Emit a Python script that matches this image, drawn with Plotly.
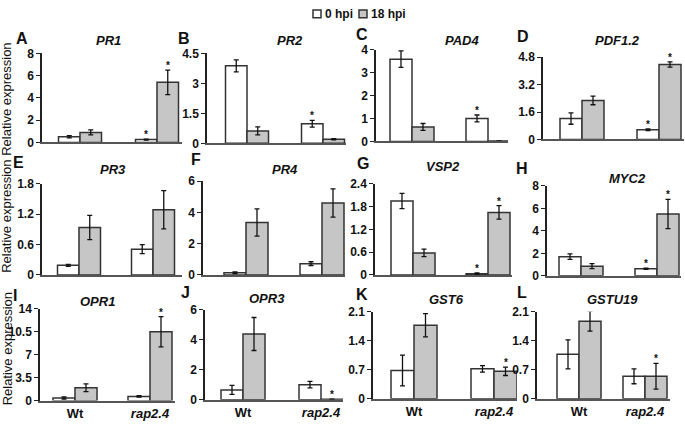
import plotly.graph_objects as go

W, H = 685, 426
FONT = "Liberation Sans, Arial, sans-serif"

# ---------------- data ----------------
genes = ["PR1", "PR2", "PAD4", "PDF1.2", "PR3", "PR4", "VSP2", "MYC2",
         "OPR1", "OPR3", "GST6", "GSTU19"]
panel_letters = ["A", "B", "C", "D", "E", "F", "G", "H", "I", "J", "K", "L"]
genotypes = ["Wt", "rap2.4"]
series_names = ["0 hpi", "18 hpi"]

wt_0hpi      = [0.50, 3.88, 3.58, 1.22, 0.19, 0.14, 1.95, 1.71, 0.40, 0.65, 0.68, 1.07]
wt_0hpi_err  = [0.10, 0.30, 0.36, 0.33, 0.02, 0.05, 0.20, 0.25, 0.15, 0.30, 0.37, 0.35]
wt_18hpi     = [0.90, 0.62, 0.63, 2.28, 0.94, 3.35, 0.58, 0.86, 1.96, 4.38, 1.77, 1.87]
wt_18hpi_err = [0.22, 0.20, 0.15, 0.25, 0.24, 0.87, 0.10, 0.22, 0.60, 1.10, 0.28, 0.24]
rap_0hpi     = [0.25, 0.98, 1.00, 0.57, 0.51, 0.72, 0.03, 0.63, 0.64, 1.00, 0.72, 0.54]
rap_0hpi_err = [0.05, 0.17, 0.15, 0.05, 0.09, 0.12, 0.02, 0.05, 0.10, 0.22, 0.08, 0.18]
rap_18hpi    = [5.40, 0.20, 0.02, 4.38, 1.29, 4.60, 1.65, 5.50, 10.5, 0.03, 0.66, 0.54]
rap_18hpi_err= [1.10, 0.03, 0.00, 0.15, 0.38, 0.90, 0.18, 1.30, 2.30, 0.00, 0.10, 0.31]
# significance markers for rap2.4 bars
rap_0hpi_sig  = [1, 1, 1, 1, 0, 0, 1, 1, 0, 0, 0, 0]
rap_18hpi_sig = [1, 0, 0, 1, 0, 0, 1, 1, 1, 1, 1, 1]

y_tick_max  = [8, 4.5, 4, 4.8, 1.8, 6, 2.4, 8, 14, 6, 2.1, 2.1]
y_tick_step = [2, 1.5, 1, 1.6, 0.6, 2, 0.6, 2, 3.5, 2, 0.7, 0.7]

# ---------------- layout geometry (pixels) ----------------
# axis_left, axis_right, wt_center, rap_center, bar_px, y_top, y_zero
geom = [
    (42, 182, 80, 157, 21.5, 48, 140),
    (207, 346, 247, 323, 21.5, 48, 141),
    (376, 508, 412, 488, 22, 44, 139),
    (543, 684, 582, 659, 22, 52, 137),
    (42, 182, 79, 153, 21.5, 183, 277),
    (203, 345, 246, 322, 22, 180, 277),
    (375, 512, 413, 488, 22, 183, 277),
    (547, 681, 581, 657, 22, 185, 278),
    (40, 175, 75, 150, 22, 312, 407),
    (205, 343, 243, 321, 22, 313, 406),
    (373, 517, 414, 494, 23, 315, 405),
    (537, 670, 579, 645, 22, 315, 405),
]
title_pos = [(108, 35), (290, 35), (462, 35), (617, 35),
             (113, 168), (285, 168), (443, 165), (627, 177),
             (98, 305), (267, 301), (447, 302), (612, 302)]
letter_pos = [(22, 33), (184, 33), (362, 28), (523, 30),
              (18, 161), (196, 158), (363, 162), (522, 167),
              (15, 298), (185, 295), (362, 297), (522, 295)]

WHITE = "white"
GREY = "#c6c6c6"
EDGE = "#333333"

fig = go.Figure()
layout_axes = {}
annotations = []

def fx(px):
    return px / W

def fy(py):
    return 1 - py / H

for i, g in enumerate(genes):
    L, R, c0, c1, wpx, yt, yz = geom[i]
    u = c1 - c0
    bw = wpx / u
    xa = "x" if i == 0 else f"x{i+1}"
    ya = "y" if i == 0 else f"y{i+1}"
    err_style = dict(type="data", color="#111111", thickness=1.3, width=2.5)
    fig.add_trace(go.Bar(
        x=[0, 1], y=[wt_0hpi[i], rap_0hpi[i]],
        error_y=dict(array=[wt_0hpi_err[i], rap_0hpi_err[i]], **err_style),
        offset=-bw, width=bw, name=series_names[0], showlegend=False,
        marker=dict(color=WHITE, line=dict(color=EDGE, width=1.5)),
        xaxis=xa, yaxis=ya))
    fig.add_trace(go.Bar(
        x=[0, 1], y=[wt_18hpi[i], rap_18hpi[i]],
        error_y=dict(array=[wt_18hpi_err[i], rap_18hpi_err[i]], **err_style),
        offset=0, width=bw, name=series_names[1], showlegend=False,
        marker=dict(color=GREY, line=dict(color=EDGE, width=1.5)),
        xaxis=xa, yaxis=ya))

    ymax = y_tick_max[i]
    step = y_tick_step[i]
    n = int(round(ymax / step))
    tv = [round(k * step, 3) for k in range(n + 1)]
    tt = [f"{v:g}" for v in tv]
    bottom = i >= 8
    xkey = "xaxis" if i == 0 else f"xaxis{i+1}"
    ykey = "yaxis" if i == 0 else f"yaxis{i+1}"
    layout_axes[xkey] = dict(
        domain=[fx(L), fx(R)], range=[(L - c0) / u, (R - c0) / u], anchor=ya,
        showline=True, linecolor="#555555", linewidth=1.6, ticks="",
        tickvals=[0, 1], ticktext=["Wt", "<i>rap2.4</i>"],
        showticklabels=bottom, showgrid=False, zeroline=False,
        tickfont=dict(family=FONT, size=13, color="#111111", weight="bold"),
        fixedrange=True)
    layout_axes[ykey] = dict(
        domain=[fy(yz), fy(yt)], range=[0, ymax], anchor=xa,
        showline=True, linecolor="#222222", linewidth=1.5,
        ticks="outside", ticklen=4, tickwidth=1.2, tickcolor="#222222",
        tickvals=tv, ticktext=tt, showgrid=False, zeroline=False,
        tickfont=dict(family=FONT, size=12, color="#111111", weight="bold"),
        fixedrange=True)

    # gene title
    tx, ty = title_pos[i]
    annotations.append(dict(x=fx(tx), y=fy(ty), xref="paper", yref="paper",
                            text=f"<b><i>{g}</i></b>", showarrow=False,
                            font=dict(family=FONT, size=13, color="#111111"),
                            xanchor="center", yanchor="middle"))
    lx, ly = letter_pos[i]
    annotations.append(dict(x=fx(lx), y=fy(ly), xref="paper", yref="paper",
                            text=f"<b>{panel_letters[i]}</b>", showarrow=False,
                            font=dict(family=FONT, size=16, color="#111111"),
                            xanchor="center", yanchor="middle"))
    # significance asterisks
    if rap_0hpi_sig[i]:
        annotations.append(dict(x=1 - bw / 2, y=rap_0hpi[i] + rap_0hpi_err[i],
                                xref=xa, yref=ya, text="<b>*</b>", showarrow=False,
                                yanchor="bottom", yshift=-3,
                                font=dict(family=FONT, size=10, color="#111111")))
    if rap_18hpi_sig[i]:
        annotations.append(dict(x=1 + bw / 2, y=rap_18hpi[i] + rap_18hpi_err[i],
                                xref=xa, yref=ya, text="<b>*</b>", showarrow=False,
                                yanchor="bottom", yshift=-3,
                                font=dict(family=FONT, size=10, color="#111111")))

# y-axis titles
for cy in [96, 217, 354]:
    annotations.append(dict(x=fx(7), y=fy(cy), xref="paper", yref="paper",
                            text="Relative expression", textangle=-90, showarrow=False,
                            font=dict(family=FONT, size=13, color="#111111"),
                            xanchor="center", yanchor="middle"))

# legend
shapes = [
    dict(type="rect", xref="paper", yref="paper", x0=fx(313), x1=fx(321),
         y0=fy(11), y1=fy(3), fillcolor=WHITE, line=dict(color=EDGE, width=1.5)),
    dict(type="rect", xref="paper", yref="paper", x0=fx(359), x1=fx(367),
         y0=fy(11), y1=fy(3), fillcolor=GREY, line=dict(color=EDGE, width=1.5)),
]
annotations.append(dict(x=fx(323), y=fy(7), xref="paper", yref="paper",
                        text=f"<b>{series_names[0]}</b>", showarrow=False,
                        xanchor="left", yanchor="middle",
                        font=dict(family=FONT, size=12, color="#111111")))
annotations.append(dict(x=fx(369), y=fy(7), xref="paper", yref="paper",
                        text=f"<b>{series_names[1]}</b>", showarrow=False,
                        xanchor="left", yanchor="middle",
                        font=dict(family=FONT, size=12, color="#111111")))

fig.update_layout(
    width=W, height=H, margin=dict(l=0, r=0, t=0, b=0),
    paper_bgcolor="white", plot_bgcolor="white",
    font=dict(family=FONT), showlegend=False, barmode="overlay",
    annotations=annotations, shapes=shapes, **layout_axes)

fig.write_html("out.html", config={"displayModeBar": False},
               post_script="document.body.style.margin='0px';document.body.style.overflow='hidden';")
